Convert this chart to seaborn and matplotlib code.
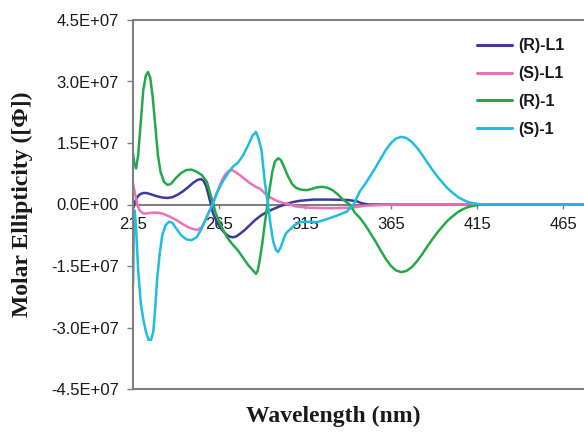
import numpy as np
import pandas as pd
import matplotlib
matplotlib.use("Agg")
import matplotlib.pyplot as plt
import seaborn as sns

# ---------------- data (values in units of 1E+07) ----------------
series_names = ["(R)-L1", "(S)-L1", "(R)-1", "(S)-1"]
series_colors = ["#3d3a9b", "#ec72b6", "#23a94a", "#1fbde0"]

wl_rl1 = [215, 216, 217.5, 219, 221, 223, 226, 229, 232, 235, 238, 241, 244, 247, 250,
          252.5, 254.5, 256, 257.5, 258.6, 260, 261.5, 264, 266.7, 269, 271, 273, 275,
          277, 280, 283, 286, 289, 292, 296, 300, 304, 308, 312, 320, 330, 340, 345,
          348, 352, 360, 400, 477]
val_rl1 = [-0.1, 0.05, 0.18, 0.25, 0.28, 0.28, 0.24, 0.2, 0.17, 0.16, 0.18, 0.24, 0.32,
           0.42, 0.53, 0.6, 0.62, 0.58, 0.45, 0.28, 0.05, -0.21, -0.45, -0.62, -0.72,
           -0.78, -0.8, -0.78, -0.72, -0.62, -0.5, -0.38, -0.28, -0.2, -0.12, -0.05,
           0.01, 0.06, 0.09, 0.12, 0.12, 0.11, 0.08, 0.03, 0.0, 0.0, 0.0, 0.0]

wl_sl1 = [215, 216, 217.5, 219, 221, 223, 226, 229, 232, 235, 238, 241, 244, 247, 250,
          252.5, 255, 257, 259, 261, 263, 265, 267, 269, 271, 272.5, 275, 277, 280,
          283, 286, 289, 292, 295, 298, 302, 306, 310, 318, 330, 340, 345, 350, 360,
          370, 477]
val_sl1 = [0.52, 0.3, 0.0, -0.15, -0.22, -0.22, -0.2, -0.2, -0.22, -0.27, -0.33, -0.4,
           -0.48, -0.55, -0.6, -0.62, -0.55, -0.4, -0.2, 0.0, 0.2, 0.42, 0.62, 0.75,
           0.83, 0.84, 0.78, 0.72, 0.62, 0.52, 0.44, 0.38, 0.26, 0.17, 0.1, 0.04, 0.0,
           -0.05, -0.08, -0.09, -0.08, -0.06, -0.03, -0.01, 0.0, 0.0]

wl_r1 = [215, 215.8, 216.8, 218, 219.5, 221, 222.5, 223.7, 225, 226.5, 228, 229.5, 231,
         233, 235, 237, 240, 243, 246, 249, 252, 255, 258, 260, 261.5, 263, 265, 267.5,
         270, 273, 276, 279, 282, 285, 286.5, 287.5, 288.5, 290, 291.5, 293, 294.5, 296,
         297.5, 299.5, 301, 303, 305, 307.5, 310, 313, 316, 319, 322, 325, 328, 331,
         334, 337, 341, 344, 347, 350, 353, 356, 359, 362, 365, 368, 371, 374, 377, 380,
         383, 386, 389, 392, 395, 398, 401, 404, 407, 410, 413, 416, 420, 477]
val_r1 = [1.25, 1.0, 0.88, 1.2, 2.0, 2.8, 3.15, 3.23, 3.1, 2.6, 1.9, 1.2, 0.8, 0.55,
          0.48, 0.5, 0.65, 0.77, 0.84, 0.85, 0.8, 0.72, 0.55, 0.25, 0.04, -0.2, -0.4,
          -0.63, -0.82, -0.98, -1.12, -1.3, -1.48, -1.62, -1.69, -1.62, -1.4, -1.0,
          -0.5, -0.05, 0.4, 0.8, 1.05, 1.13, 1.08, 0.9, 0.7, 0.5, 0.4, 0.36, 0.35, 0.38,
          0.42, 0.43, 0.41, 0.35, 0.25, 0.12, 0.0, -0.2, -0.33, -0.5, -0.7, -0.9, -1.12,
          -1.33, -1.5, -1.61, -1.65, -1.62, -1.53, -1.39, -1.22, -1.03, -0.85, -0.68,
          -0.53, -0.39, -0.28, -0.18, -0.11, -0.06, -0.03, -0.01, 0.0, 0.0]

wl_s1 = [215, 215.5, 216, 216.8, 218, 219.5, 221, 222.5, 224, 225.5, 226.8, 227.8, 229,
         230.5, 232, 234, 236, 238, 240, 243, 246, 249, 252, 254.5, 257, 259.5, 261.5,
         264, 267, 270, 273, 276, 279, 282, 284.5, 286.5, 288, 289.7, 291.7, 293.5, 295,
         296.5, 298, 299.3, 300.8, 302.5, 304, 306, 309, 312, 317, 322, 326, 329.5, 333,
         336, 339, 341.5, 343.5, 347, 350, 353, 356, 359, 362, 365, 368, 371, 374, 377,
         380, 383, 386, 389, 392, 395, 398, 401, 404, 407, 410, 413, 416, 420, 477]
val_s1 = [-1.95, -0.6, -0.15, -0.6, -1.6, -2.4, -2.8, -3.1, -3.3, -3.3, -3.1, -2.6,
          -1.84, -1.2, -0.75, -0.5, -0.42, -0.45, -0.58, -0.75, -0.85, -0.87, -0.8,
          -0.62, -0.38, -0.15, 0.02, 0.3, 0.55, 0.75, 0.92, 1.02, 1.2, 1.45, 1.68, 1.77,
          1.6, 1.33, 0.52, 0.0, -0.5, -0.9, -1.1, -1.16, -1.05, -0.85, -0.7, -0.62,
          -0.5, -0.43, -0.42, -0.43, -0.38, -0.33, -0.28, -0.23, -0.18, -0.08, 0.02,
          0.33, 0.5, 0.7, 0.9, 1.12, 1.33, 1.5, 1.61, 1.65, 1.62, 1.53, 1.39, 1.22,
          1.03, 0.85, 0.68, 0.53, 0.39, 0.28, 0.18, 0.11, 0.06, 0.03, 0.01, 0.0, 0.0]

x_ticks = [215, 265, 315, 365, 415, 465]
y_ticks = [-4.5e7, -3.0e7, -1.5e7, 0.0, 1.5e7, 3.0e7, 4.5e7]
y_tick_labels = ["-4.5E+07", "-3.0E+07", "-1.5E+07", "0.0E+00", "1.5E+07", "3.0E+07", "4.5E+07"]

# ---------------- build table ----------------
frames = []
for name, x, y in zip(series_names, [wl_rl1, wl_sl1, wl_r1, wl_s1],
                      [val_rl1, val_sl1, val_r1, val_s1]):
    frames.append(pd.DataFrame({"Wavelength": x,
                                "Ellipticity": np.array(y) * 1e7,
                                "Series": name}))
df = pd.concat(frames, ignore_index=True)

sns.set_theme(style="white")
plt.rcParams["font.family"] = ["Liberation Sans", "DejaVu Sans"]

fig = plt.figure(figsize=(5.84, 4.33), dpi=100)
ax = fig.add_axes([133 / 584, 44 / 433, 451 / 584, 369 / 433])

sns.lineplot(data=df, x="Wavelength", y="Ellipticity", hue="Series",
             hue_order=series_names, palette=series_colors, sort=False,
             estimator=None, linewidth=1.8, ax=ax)

gray = "#7f7f7f"
ax.set_xlim(215, 477.2)
ax.set_ylim(-4.5e7, 4.5e7)
ax.set_yticks(y_ticks)
ax.set_yticklabels(y_tick_labels)
ax.set_xticks(x_ticks)
ax.set_xticklabels([str(t) for t in x_ticks])

ax.spines["bottom"].set_position(("data", 0))
for s in ["bottom", "top", "left"]:
    ax.spines[s].set_color(gray)
    ax.spines[s].set_linewidth(1.5)
ax.spines["right"].set_visible(False)
ax.axhline(-4.5e7, color=gray, linewidth=1.5, clip_on=False, zorder=3)
ax.spines["bottom"].set_zorder(1)

ax.tick_params(axis="x", direction="out", length=3, width=1, color=gray,
               labelsize=12, labelcolor="#1a1a1a", pad=6, bottom=True)
ax.tick_params(axis="y", direction="out", length=4, width=1, color=gray,
               labelsize=12, labelcolor="#1a1a1a", pad=6, left=True)

ax.set_xlabel("Wavelength (nm)", fontfamily="Liberation Serif", fontweight="bold",
              fontsize=17, color="#1a1a1a")
ax.set_ylabel("Molar Ellipticity ([Φ])", fontfamily="Liberation Serif",
              fontweight="bold", fontsize=17, color="#1a1a1a")
ax.xaxis.set_label_coords(0.443, -0.045)
ax.yaxis.set_label_coords(-0.222, 0.5)

leg = ax.legend(loc="upper left", bbox_to_anchor=(0.763, 0.95), frameon=False,
                borderpad=0, borderaxespad=0, handlelength=2.2, handletextpad=0.35,
                labelspacing=0.8, prop={"weight": "bold", "size": 11.5})
for line in leg.get_lines():
    line.set_linewidth(2.2)
for t in leg.get_texts():
    t.set_color("#1a1a1a")

fig.savefig("out.png", dpi=100)
